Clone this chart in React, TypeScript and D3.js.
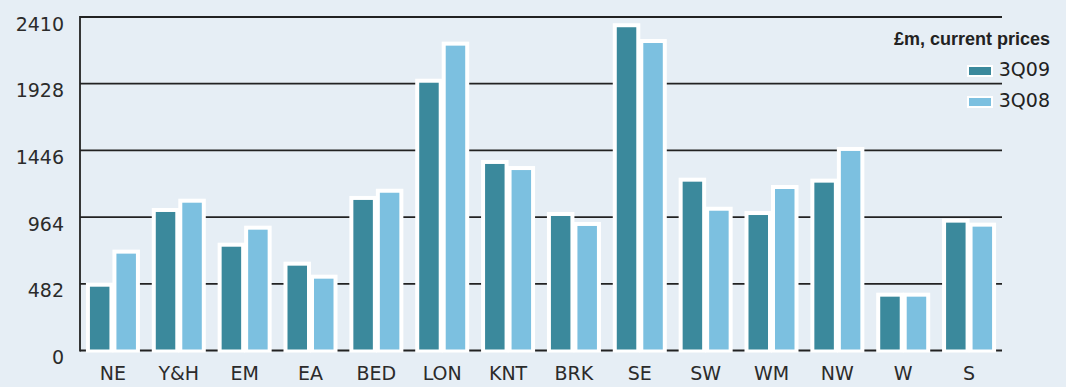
import * as d3 from 'd3'

// regions, in the order they appear along the axis
const regions = ['NE', 'Y&H', 'EM', 'EA', 'BED', 'LON', 'KNT', 'BRK', 'SE', 'SW', 'WM', 'NW', 'W', 'S']

// £m, current prices
const q309 = [461, 1001, 750, 613, 1088, 1935, 1348, 972, 2336, 1220, 979, 1213, 389, 924]
const q308 = [700, 1068, 873, 519, 1140, 2203, 1304, 900, 2222, 1010, 1167, 1442, 389, 895]

const series = ['3Q09', '3Q08']
const yTicks = [0, 482, 964, 1446, 1928, 2410]

const colors: Record<string, string> = { '3Q09': '#3b899c', '3Q08': '#7cc0e0' }

const width = 1066
const height = 387
const bg = '#e6eef5'
const ink = '#222222'
const font = '"DejaVu Sans", sans-serif'

export default function App() {
  const x = d3.scaleBand<string>().domain(regions).range([80, 1002])
  const xInner = d3
    .scaleBand<string>()
    .domain(series)
    .range([-23, 23])
    .paddingInner(7 / 26.5)
  const y = d3.scaleLinear().domain([0, 2410]).range([350.5, 17])

  const bars = regions.flatMap((r, i) =>
    series.map(s => ({
      region: r,
      series: s,
      value: s === '3Q09' ? q309[i] : q308[i],
    }))
  )

  const bw = xInner.bandwidth()
  const cx = (r: string) => (x(r) ?? 0) + x.bandwidth() / 2

  return (
    <>
      <style>{'body{margin:0}'}</style>
      <svg width={width} height={height} style={{ display: 'block' }}>
        <rect width={width} height={height} fill={bg} />

        {/* gridlines */}
        {yTicks.map(t => (
          <line
            key={t}
            x1={80}
            x2={1002}
            y1={y(t)}
            y2={y(t)}
            stroke={ink}
            strokeWidth={1.8}
          />
        ))}
        <line x1={80} x2={80} y1={y(2410) - 0.9} y2={y(0) + 0.9} stroke={ink} strokeWidth={1.8} />

        {/* white halos behind the bars */}
        {bars.map(d => {
          const bx = cx(d.region) + (xInner(d.series) ?? 0)
          return (
            <rect
              key={'h' + d.region + d.series}
              x={bx - 4}
              y={y(d.value) - 4}
              width={bw + 8}
              height={y(0) - y(d.value) + 6}
              fill="#ffffff"
            />
          )
        })}
        {bars.map(d => {
          const bx = cx(d.region) + (xInner(d.series) ?? 0)
          return (
            <rect
              key={'b' + d.region + d.series}
              x={bx}
              y={y(d.value)}
              width={bw}
              height={y(0) - 1 - y(d.value)}
              fill={colors[d.series]}
            />
          )
        })}

        {/* y tick labels */}
        {yTicks.map(t => (
          <text
            key={'t' + t}
            x={64}
            y={y(t) + 13.5}
            textAnchor="end"
            fontFamily={font}
            fontSize={19}
            fill="#2b2b2b"
          >
            {t}
          </text>
        ))}

        {/* category labels */}
        {regions.map(r => (
          <text
            key={'c' + r}
            x={cx(r)}
            y={380}
            textAnchor="middle"
            fontFamily={font}
            fontSize={19}
            fill="#2b2b2b"
          >
            {r}
          </text>
        ))}

        {/* legend */}
        <text
          x={1050}
          y={45}
          textAnchor="end"
          fontFamily='"Liberation Sans", Arial, sans-serif'
          fontWeight="bold"
          fontSize={18}
          fill="#222"
        >
          £m, current prices
        </text>
        {series.map((s, i) => (
          <g key={'l' + s} transform={`translate(0,${i * 31})`}>
            <rect x={967} y={65} width={26} height={12} fill="#ffffff" />
            <rect x={969} y={67} width={22} height={8} fill={colors[s]} />
            <text
              x={1050}
              y={76}
              textAnchor="end"
              fontFamily={font}
              fontSize={19}
              fill="#222"
            >
              {s}
            </text>
          </g>
        ))}
      </svg>
    </>
  )
}
